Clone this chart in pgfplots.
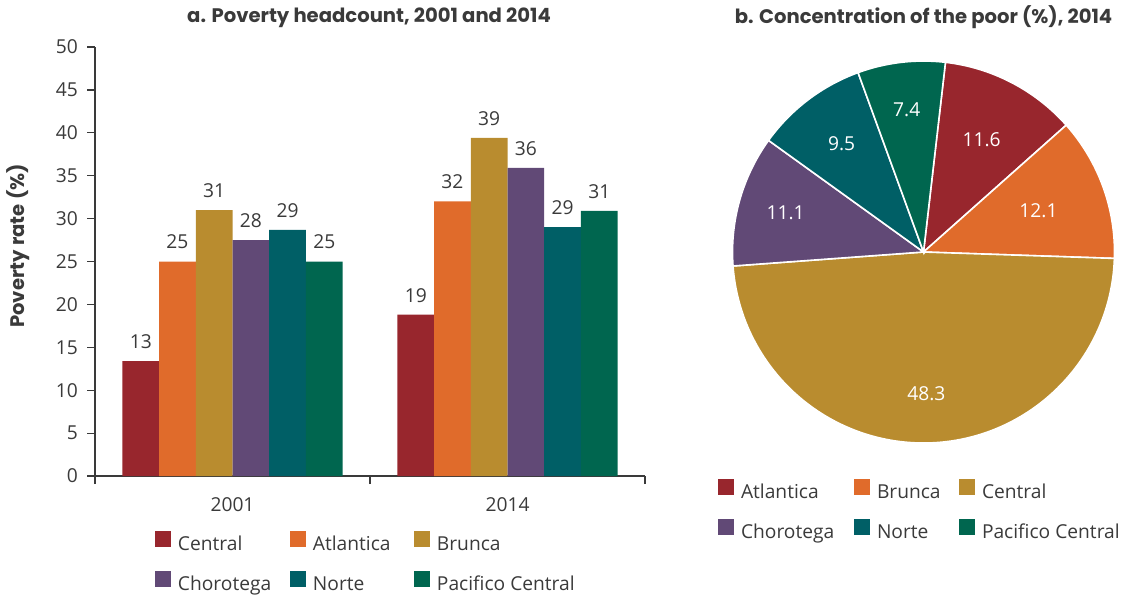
\documentclass[border=0pt]{standalone}
\usepackage{fontspec}
\setmainfont{Open Sans}
\newfontfamily\titlefam{Poppins}
\usepackage{pgfplots}
\usepackage{pgfplotstable}
\pgfplotsset{compat=1.18}

\definecolor{cText}{HTML}{3A3A3A}
\definecolor{cRed}{HTML}{98262D}
\definecolor{cOrange}{HTML}{E06B2B}
\definecolor{cGold}{HTML}{B98C2F}
\definecolor{cPurple}{HTML}{614976}
\definecolor{cTeal}{HTML}{005F66}
\definecolor{cGreen}{HTML}{00664F}

\newcommand\labelfont{\fontsize{9.6}{11.5}\selectfont}
\newcommand\titlefont{\titlefam\fontsize{9.8}{11}\selectfont\bfseries}

\pgfplotsset{sqlegend/.style={legend image code/.code={\fill[##1] (0pt,-0.5pt) rectangle (8pt,7.5pt);}}}

% poverty rate by region, 2001 (x=0) and 2014 (x=1)
\pgfplotstableread{
x Central Atlantica Brunca Chorotega Norte Pacifico
0 13.4 25.0 31.0 27.5 28.7 25.0
1 18.8 32.0 39.4 35.9 29.0 30.9
}\bars

% pie: share / colour / label radius
\def\piedata{11.6/cRed/0.66, 12.1/cOrange/0.64, 48.3/cGold/0.74, 11.1/cPurple/0.75, 9.5/cTeal/0.71, 7.4/cGreen/0.75}

\begin{document}
\color{cText}
\begin{tikzpicture}
\path[use as bounding box] (0,0) rectangle (566.5pt,-298pt);

\node[font=\titlefont] at (184.5pt,-9pt) {a. Poverty headcount, 2001 and 2014};
\node[font=\titlefont] at (461.75pt,-8.5pt) {b. Concentration of the poor (\%), 2014};
\node[font=\titlefont, rotate=90] at (9pt,-123pt) {Poverty rate (\%)};

\begin{axis}[
  at={(47.5pt,-238pt)}, anchor=south west,
  scale only axis, width=275pt, height=214.5pt,
  xmin=-0.5, xmax=1.5, ymin=0, ymax=50,
  axis lines*=left,
  axis line style={cText, line width=0.6pt},
  ybar=0pt, bar width=18.35pt,
  xtick={-0.5,0.5,1.5}, xticklabels={},
  extra x ticks={0,1}, extra x tick labels={2001,2014},
  extra x tick style={major tick length=0pt},
  ytick={0,5,...,50},
  tick align=outside, major tick length=4pt,
  tick style={cText, line width=0.6pt},
  /pgf/number format/assume math mode=true,
  tick label style={font=\labelfont, text=cText},
  xticklabel style={yshift=-7pt},
  yticklabel style={xshift=-1pt},
  nodes near coords={\pgfmathprintnumber[fixed,precision=0]{\pgfplotspointmeta}},
  nodes near coords style={font=\labelfont, text=cText, inner sep=0pt, anchor=south, yshift=6pt},
  legend columns=3,
  legend cell align=left,
  legend style={draw=none, fill=none, inner sep=0pt, outer sep=0pt,
    at={(0.109,-0.1273)}, anchor=north west, font=\labelfont,
    row sep=7.5pt, column sep=0pt,
    /tikz/every odd column/.append style={column sep=3.5pt},
    nodes={inner sep=0pt, text height=7.5pt, text depth=2.5pt}},
]
\addplot[fill=cRed, draw=none, sqlegend] table[x=x, y=Central] {\bars};
\addplot[fill=cOrange, draw=none, sqlegend] table[x=x, y=Atlantica] {\bars};
\addplot[fill=cGold, draw=none, sqlegend] table[x=x, y=Brunca] {\bars};
\addplot[fill=cPurple, draw=none, sqlegend] table[x=x, y=Chorotega] {\bars};
\addplot[fill=cTeal, draw=none, sqlegend] table[x=x, y=Norte] {\bars};
\addplot[fill=cGreen, draw=none, sqlegend] table[x=x, y=Pacifico] {\bars};
\legend{\makebox[56pt][l]{Central}, \makebox[50.5pt][l]{Atlantica}, Brunca,
  \makebox[56pt][l]{Chorotega}, \makebox[50.5pt][l]{Norte}, Pacifico Central}
\end{axis}

\begin{axis}[
  at={(366.25pt,-221.5pt)}, anchor=south west,
  scale only axis, width=191pt, height=191pt,
  xmin=-1, xmax=1, ymin=-1, ymax=1,
  hide axis, clip=false,
  legend image code/.code={\fill[#1] (0pt,-0.5pt) rectangle (8pt,7.5pt);},
  legend columns=3,
  legend cell align=left,
  legend style={draw=none, fill=none, inner sep=0pt, outer sep=0pt,
    at={(-0.038,-0.094)}, anchor=north west, font=\labelfont,
    row sep=7.5pt, column sep=0pt,
    /tikz/every odd column/.append style={column sep=3.5pt},
    nodes={inner sep=0pt, text height=7.5pt, text depth=2.5pt}},
]
\xdef\pstart{83.4}
\foreach \v/\c/\r in \piedata {
  \pgfmathsetmacro\pend{\pstart-3.6*\v}
  \pgfmathsetmacro\pmid{(\pstart+\pend)/2}
  \edef\temp{\noexpand\fill[\c, draw=white, line width=0.8pt] (axis cs:0,0) -- (axis cs:{cos(\pstart)},{sin(\pstart)}) arc[start angle=\pstart, end angle=\pend, radius=95.5pt] -- cycle;
    \noexpand\node[text=white, font=\noexpand\labelfont] at (axis cs:{\r*cos(\pmid)},{\r*sin(\pmid)}) {\v};}
  \temp
  \xdef\pstart{\pend}
}
\addlegendimage{fill=cRed, draw=none}
\addlegendentry{\makebox[56.5pt][l]{Atlantica}}
\addlegendimage{fill=cOrange, draw=none}
\addlegendentry{\makebox[41pt][l]{Brunca}}
\addlegendimage{fill=cGold, draw=none}
\addlegendentry{Central}
\addlegendimage{fill=cPurple, draw=none}
\addlegendentry{\makebox[56.5pt][l]{Chorotega}}
\addlegendimage{fill=cTeal, draw=none}
\addlegendentry{\makebox[41pt][l]{Norte}}
\addlegendimage{fill=cGreen, draw=none}
\addlegendentry{Pacifico Central}
\end{axis}
\end{tikzpicture}
\end{document}
